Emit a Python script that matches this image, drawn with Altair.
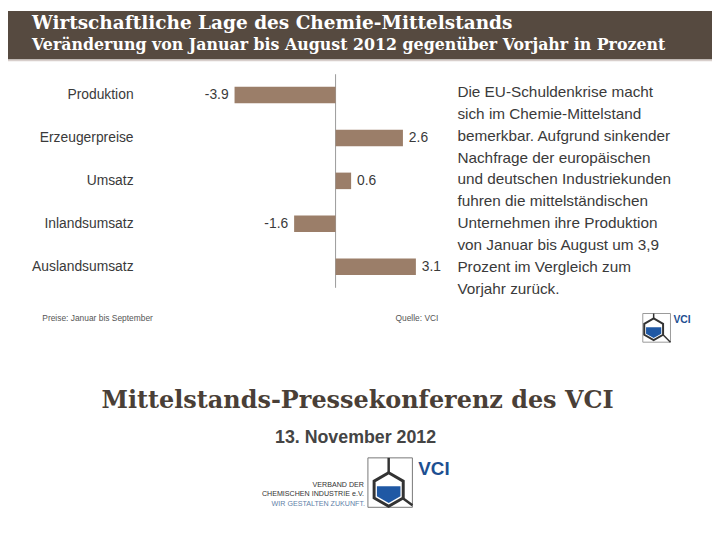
import altair as alt
import pandas as pd

# ---------------- data ----------------
categories = ["Produktion", "Erzeugerpreise", "Umsatz", "Inlandsumsatz", "Auslandsumsatz"]
values = [-3.9, 2.6, 0.6, -1.6, 3.1]
value_labels = ["-3.9", "2.6", "0.6", "-1.6", "3.1"]

title_1 = "Wirtschaftliche Lage des Chemie-Mittelstands"
title_2 = "Veränderung von Januar bis August 2012 gegenüber Vorjahr in Prozent"
paragraph = [
    "Die EU-Schuldenkrise macht",
    "sich im Chemie-Mittelstand",
    "bemerkbar. Aufgrund sinkender",
    "Nachfrage der europäischen",
    "und deutschen Industriekunden",
    "fuhren die mittelständischen",
    "Unternehmen ihre Produktion",
    "von Januar bis August um 3,9",
    "Prozent im Vergleich zum",
    "Vorjahr zurück.",
]
note_left = "Preise: Januar bis September"
note_right = "Quelle: VCI"
footer_title = "Mittelstands-Pressekonferenz des VCI"
footer_date = "13. November 2012"
logo_lines = ["VERBAND DER", "CHEMISCHEN INDUSTRIE e.V."]
logo_claim = "WIR GESTALTEN ZUKUNFT."

df = pd.DataFrame({"cat": categories, "v": values, "lab": value_labels})
zero_df = pd.DataFrame({"z": [0.0]})
one = pd.DataFrame({"k": [0]})

# ---------------- style ----------------
W, H = 712, 524
HEADER = "#564a40"
BAR = "#9b7e69"
TXT = "#3a3a3a"
BLUE = "#1f58a4"
VCI_BLUE = "#1d4f91"
SANS = "Liberation Sans"
SERIF = "DejaVu Serif"

HEX = "M0,-1L0.866,-0.5L0.866,0.5L0,1L-0.866,0.5L-0.866,-0.5Z"
HEX_FILL = "M-0.7,-0.2L0.7,-0.2L0.7,0.4L0,0.8L-0.7,0.4Z"

xs = alt.Scale(domain=[-5, 5], range=[200.3, 462.3], nice=False, zero=False)
ys = alt.Scale(domain=categories, range=[63.3, 280.4], paddingInner=0.615, paddingOuter=0.3075)


def txt(s, x, y, **kw):
    return alt.Chart(one).mark_text(text=s, **kw).encode(x=alt.value(x), y=alt.value(y))


def box(x1, x2, y1, y2, **kw):
    return alt.Chart(one).mark_rect(**kw).encode(
        x=alt.value(x1), x2=alt.value(x2), y=alt.value(y1), y2=alt.value(y2))


def line(x1, x2, y1, y2, **kw):
    return alt.Chart(one).mark_rule(**kw).encode(
        x=alt.value(x1), x2=alt.value(x2), y=alt.value(y1), y2=alt.value(y2))


def sym(shape, x, y, size, **kw):
    return alt.Chart(one).mark_point(shape=shape, size=size, filled=True, opacity=1, **kw).encode(
        x=alt.value(x), y=alt.value(y))


# header
header = box(0, W, 0, 49, color=HEADER)
header_line = box(0, W, 49, 51, color="#d8cfcc")
t1 = txt(title_1, 24.3, 18, align="left", baseline="alphabetic", font=SERIF, fontWeight="bold",
         fontSize=18.7, color="white")
t2 = txt(title_2, 24.3, 40, align="left", baseline="alphabetic", font=SERIF, fontWeight="bold",
         fontSize=16, color="white")

# bar chart
X = alt.X("v:Q", scale=xs, axis=None)
Y = alt.Y("cat:N", scale=ys, axis=None)
bars = alt.Chart(df).mark_bar(color=BAR).encode(x=X, y=Y)
zero = alt.Chart(zero_df).mark_rule(color="#9a9a9a", strokeWidth=1).encode(
    x=alt.X("z:Q", scale=xs, axis=None), y=alt.value(64), y2=alt.value(280))
cat_labels = alt.Chart(df).mark_text(align="right", baseline="middle", font=SANS, fontSize=14,
                                     color=TXT).encode(x=alt.value(127), y=Y, text="cat:N")
neg_labels = alt.Chart(df).transform_filter("datum.v < 0").mark_text(
    align="right", baseline="middle", dx=-6, font=SANS, fontSize=14, color=TXT).encode(
    x=X, y=Y, text="lab:N")
pos_labels = alt.Chart(df).transform_filter("datum.v >= 0").mark_text(
    align="left", baseline="middle", dx=6, font=SANS, fontSize=14, color=TXT).encode(
    x=X, y=Y, text="lab:N")

n1 = txt(note_left, 34.7, 310.3, align="left", baseline="middle", font=SANS, fontSize=8.5, color="#555")
n2 = txt(note_right, 435.3, 310.3, align="right", baseline="middle", font=SANS, fontSize=8.5, color="#555")

# paragraph
para = txt(paragraph, 454.5, 75, align="left", baseline="top", font=SANS, fontSize=15.5,
           lineHeight=22.1, color=TXT)

# small logo
s_box = box(642, 670, 306, 335, fill="white", stroke="#9a9a9a", strokeWidth=1)
s_v = line(653, 653, 306, 312, color="#333", strokeWidth=1.5)
s_d = line(662.5, 670, 327.5, 335, color="#333", strokeWidth=1.5)
s_hex = sym(HEX, 653, 322, 484, fill="white", stroke="#333", strokeWidth=2)
s_fill = sym(HEX_FILL, 653, 322, 484, fill=BLUE, strokeWidth=0)
s_vci = txt("VCI", 673, 312.5, align="left", baseline="middle", font=SANS, fontWeight="bold",
            fontSize=10.5, color=VCI_BLUE)

# footer
f_title = txt(footer_title, 353.5, 395, align="center", baseline="middle", font=SERIF,
              fontWeight="bold", fontSize=24.2, color="#4a3f37")
f_date = txt(footer_date, 351.5, 432, align="center", baseline="middle", font=SANS,
             fontWeight="bold", fontSize=18, color="#444")

# big logo
b_box = box(364, 409, 452, 502, fill="white", stroke="#777", strokeWidth=1)
b_v = line(385, 385, 452, 467, color="#333", strokeWidth=2.5)
b_d = line(399, 409, 492.5, 500, color="#333", strokeWidth=2.5)
b_hex = sym(HEX, 385, 484, 1156, fill="white", stroke="#333", strokeWidth=3)
b_fill = sym(HEX_FILL, 385, 484, 1156, fill=BLUE, strokeWidth=0)
b_vci = txt("VCI", 415, 463.5, align="left", baseline="middle", font=SANS, fontWeight="bold",
            fontSize=19, color=VCI_BLUE)
b_t1 = txt(logo_lines, 360, 479, align="right", baseline="middle", font=SANS, fontSize=7.2,
           lineHeight=10, color="#333")
b_t2 = txt(logo_claim, 361, 498.5, align="right", baseline="middle", font=SANS, fontSize=7.2,
           color="#5f7fa8")

chart = alt.layer(
    header, header_line, t1, t2,
    zero, bars, cat_labels, neg_labels, pos_labels, n1, n2,
    para,
    s_box, s_v, s_d, s_hex, s_fill, s_vci,
    f_title, f_date,
    b_box, b_v, b_d, b_hex, b_fill, b_vci, b_t1, b_t2,
).properties(
    width=W, height=H, padding=0,
).configure_view(strokeWidth=0)

chart.save("out.html", embed_options={"renderer": "svg", "actions": False})
